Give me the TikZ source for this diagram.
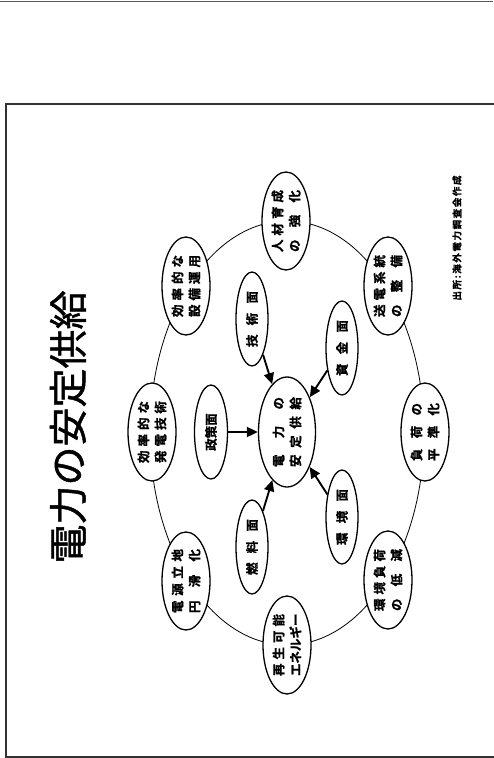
\documentclass[tikz,border=0pt]{standalone}
\usepackage{fontspec}
\newfontfamily\jp{Noto Sans CJK JP Bold}[FakeBold=1.2]
\newfontfamily\jpt{Noto Sans CJK JP}[FakeBold=1.2]
\usetikzlibrary{shapes.geometric,arrows.meta}
\newcommand\dl[2]{\makebox[#1][s]{#2}}
\begin{document}
\begin{tikzpicture}[x=1pt,y=-1pt,
  outer/.style={ellipse,draw,line width=1.3pt,fill=white,rotate=90,minimum width=98pt,minimum height=48pt,inner sep=0pt,font=\jp\fontsize{12.5}{17}\selectfont,align=center},
  inner/.style={ellipse,draw,line width=1.3pt,fill=white,rotate=90,minimum width=94pt,minimum height=32pt,inner sep=0pt,font=\jp\fontsize{12.5}{17}\selectfont,align=center},
  core/.style={ellipse,draw,line width=1.3pt,fill=white,rotate=90,minimum width=110pt,minimum height=57pt,inner sep=0pt,font=\jp\fontsize{12.5}{17}\selectfont,align=center},
  arr/.style={line width=1.9pt,-{Triangle[length=11pt,width=10pt]}},
  ring/.style={line width=0.8pt},
  frame/.style={line width=2pt,draw=black!80}
]
\useasboundingbox (0,0) rectangle (493,758);
\draw[line width=1.6pt,draw=black!65] (0,1.5) -- (493,1.5);
\draw[frame] (5.5,103.5) rectangle (500,756.5);

\node[rotate=90,font=\jpt\fontsize{39}{39}\selectfont,inner sep=0pt] (title) at (68,427) {\dl{273pt}{電\hfill 力\hfill の\hfill 安\hfill 定\hfill 供\hfill 給}};

\draw[ring] (287,433) ellipse [x radius=137, y radius=212];

\node[outer] (jinzai) at (286,221) {\dl{62pt}{人\hfill 材\hfill 育\hfill 成}\\\dl{62pt}{の\hfill 強\hfill 化}};
\node[outer] (soden) at (388,286) {\dl{62pt}{送\hfill 電\hfill 系\hfill 統}\\\dl{62pt}{の\hfill 整\hfill 備}};
\node[outer] (fuka) at (425,432) {\dl{58pt}{負\hfill 荷\hfill の}\\\dl{58pt}{平\hfill 準\hfill 化}};
\node[outer] (kankyo) at (388,580) {\dl{62pt}{環\hfill 境\hfill 負\hfill 荷}\\\dl{62pt}{の\hfill 低\hfill 減}};
\node[outer] (saisei) at (287,645) {\dl{62pt}{再\hfill 生\hfill 可\hfill 能}\\\dl{62pt}{エネルギー}};
\node[outer] (dengen) at (186,581) {\dl{64pt}{電\hfill 源\hfill 立\hfill 地}\\\dl{64pt}{円\hfill 滑\hfill 化}};
\node[outer] (hatsuden) at (152,432) {\dl{62pt}{効\hfill 率\hfill 的\hfill な}\\\dl{62pt}{発\hfill 電\hfill 技\hfill 術}};
\node[outer] (setsubi) at (186,286) {\dl{62pt}{効\hfill 率\hfill 的\hfill な}\\\dl{62pt}{設\hfill 備\hfill 運\hfill 用}};

\node[core] (center) at (287,432) {\dl{70pt}{電\hfill 力\hfill の}\\\dl{70pt}{安\hfill 定\hfill 供\hfill 給}};

\node[inner] (gijutsu) at (252,319) {\dl{56pt}{技\hfill 術\hfill 面}};
\node[inner] (shikin) at (342,348) {\dl{56pt}{資\hfill 金\hfill 面}};
\node[inner,minimum height=33pt,minimum width=94pt] (seisaku) at (211,432) {政策面};
\node[inner] (nenryo) at (252,547) {\dl{56pt}{燃\hfill 料\hfill 面}};
\node[inner] (kankyomen) at (342,517) {\dl{56pt}{環\hfill 境\hfill 面}};

\draw[arr] (seisaku) -- (center);
\draw[arr] (gijutsu) -- (center);
\draw[arr] (shikin) -- (center);
\draw[arr] (nenryo) -- (center);
\draw[arr] (kankyomen) -- (center);

\node[rotate=90,font=\jp\fontsize{9.5}{10}\selectfont] (note) at (457,238) {\dl{125pt}{出\hfill 所\hfill :\hfill 海\hfill 外\hfill 電\hfill 力\hfill 調\hfill 査\hfill 会\hfill 作\hfill 成}};
\end{tikzpicture}
\end{document}
